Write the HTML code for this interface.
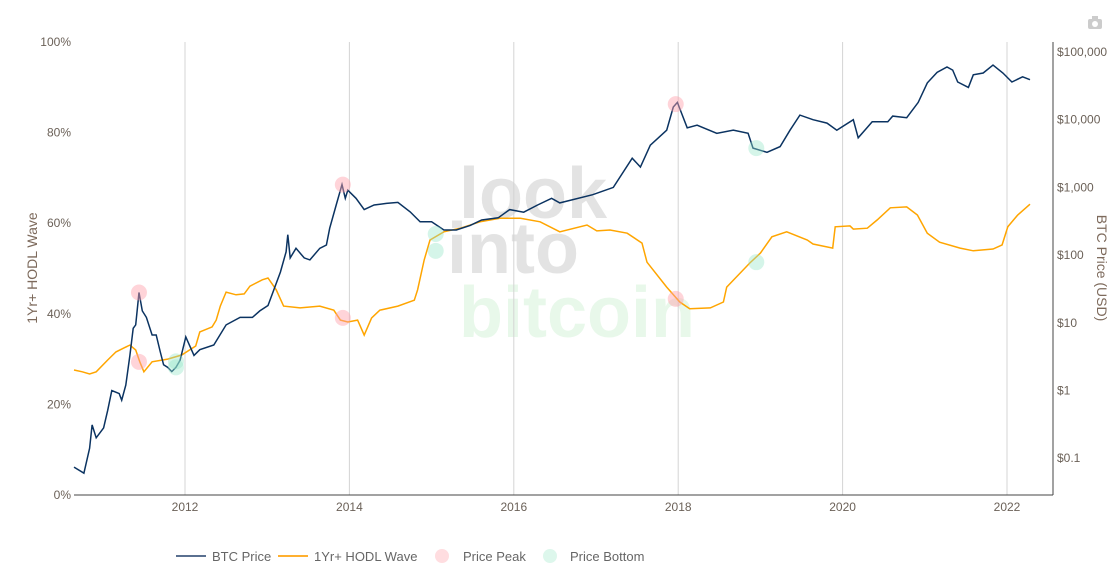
<!DOCTYPE html>
<html><head><meta charset="utf-8"><style>
body{margin:0;background:#fff;font-family:"Liberation Sans",sans-serif;}
svg text{font-family:"Liberation Sans",sans-serif;}
</style></head><body>
<svg id="chart" width="1118" height="573" xmlns="http://www.w3.org/2000/svg">
<g id="wm">
<text x="533" y="218" font-size="72" font-weight="bold" fill="#e3e3e3" text-anchor="middle">look</text>
<text x="513" y="273" font-size="72" font-weight="bold" fill="#e3e3e3" text-anchor="middle">into</text>
<text x="577" y="337" font-size="72" font-weight="bold" fill="#e8f8ea" text-anchor="middle">bitcoin</text>
</g>
<g id="grid"></g><g id="axes"></g><g id="series"></g><g id="marks"></g><g id="legend"></g>
<g><rect x="1088" y="19" width="14" height="10" rx="2" fill="#ccc"/><rect x="1092" y="16" width="6" height="4" fill="#ccc"/><circle cx="1095" cy="24" r="3" fill="#fff"/></g>
</svg>
<script>
const priceYears=[2010.65,2010.77,2010.84,2010.87,2010.92,2011.01,2011.06,2011.11,2011.20,2011.23,2011.28,2011.33,2011.37,2011.40,2011.44,2011.48,2011.53,2011.60,2011.65,2011.70,2011.74,2011.79,2011.84,2011.89,2011.94,2012.01,2012.11,2012.18,2012.35,2012.50,2012.67,2012.82,2012.91,2013.01,2013.16,2013.23,2013.25,2013.28,2013.35,2013.45,2013.52,2013.64,2013.72,2013.76,2013.84,2013.89,2013.91,2013.95,2013.98,2014.08,2014.18,2014.30,2014.45,2014.59,2014.74,2014.86,2015.00,2015.15,2015.30,2015.47,2015.61,2015.81,2015.95,2016.12,2016.29,2016.46,2016.56,2016.96,2017.21,2017.44,2017.54,2017.66,2017.86,2017.94,2017.99,2018.05,2018.11,2018.23,2018.47,2018.67,2018.85,2018.91,2019.08,2019.24,2019.36,2019.48,2019.64,2019.81,2019.93,2020.13,2020.19,2020.36,2020.55,2020.61,2020.78,2020.92,2021.03,2021.15,2021.27,2021.34,2021.40,2021.53,2021.59,2021.71,2021.83,2021.95,2022.06,2022.19,2022.28];
const priceValues=[0.074,0.06,0.14,0.31,0.2,0.28,0.51,1.0,0.9,0.72,1.2,3.3,8.3,9.3,28,15,12,6.6,6.6,3.7,2.4,2.2,1.9,2.2,2.8,6.2,3.3,4.0,4.7,9.3,12,12,15,18,56,112,200,91,126,91,85,126,141,250,550,910,1100,690,910,690,470,550,580,600,435,310,310,235,235,275,330,355,470,430,550,690,590,780,1000,2700,2000,4200,7000,15400,18000,11700,7600,8300,6300,7000,6300,3800,3300,4000,7000,11700,10000,8900,7000,10000,5400,9300,9300,11300,10700,18000,35000,50000,60000,54000,36000,30000,46000,49000,64000,49000,36000,43000,39000];
const hodlYears=[2010.65,2010.75,2010.84,2010.92,2011.06,2011.16,2011.26,2011.33,2011.40,2011.45,2011.50,2011.60,2011.79,2011.96,2012.13,2012.18,2012.33,2012.38,2012.43,2012.50,2012.62,2012.72,2012.79,2012.94,2013.01,2013.11,2013.20,2013.40,2013.64,2013.81,2013.89,2013.98,2014.10,2014.18,2014.27,2014.37,2014.59,2014.79,2014.83,2014.91,2014.98,2015.15,2015.35,2015.59,2015.83,2016.08,2016.32,2016.56,2016.89,2017.01,2017.17,2017.38,2017.56,2017.62,2017.86,2018.02,2018.14,2018.39,2018.55,2018.59,2018.87,2019.00,2019.14,2019.32,2019.57,2019.64,2019.88,2019.91,2020.09,2020.13,2020.30,2020.42,2020.58,2020.78,2020.91,2021.03,2021.18,2021.43,2021.59,2021.83,2021.94,2022.01,2022.13,2022.28];
const hodlValues=[27.6,27.2,26.7,27.2,29.8,31.6,32.5,33.1,32.0,29.4,27.2,29.4,30.0,30.9,32.9,36.0,37.1,38.6,41.7,44.8,44.2,44.4,46.1,47.5,47.9,45.3,41.7,41.3,41.7,40.8,38.6,38.2,38.6,35.3,39.1,40.8,41.7,43.0,45.3,51.9,56.3,58.1,58.9,60.3,61.1,61.1,60.3,58.1,59.6,58.3,58.5,57.8,55.6,51.4,45.9,42.6,41.1,41.3,42.6,45.9,51.2,53.4,57.0,58.1,56.3,55.4,54.5,59.2,59.4,58.7,58.9,60.7,63.4,63.6,61.8,57.8,55.8,54.5,53.9,54.3,55.2,59.2,61.8,64.2];
const peakYears=[2011.44,2013.92,2017.97];
const peakPrices=[28,1100,17000];
const peakHodl=[29.4,39.1,43.3];
const bottomYears=[2011.89,2015.05,2018.95];
const bottomPrices=[2.2,205,3800];
const bottomHodl=[29.5,53.9,51.4];
const xTicks=[2012,2014,2016,2018,2020,2022];
const leftTicks=[0,20,40,60,80,100];
const rightTicks=[0.1,1,10,100,1000,10000,100000];
const rightLabels=["$0.1","$1","$10","$100","$1,000","$10,000","$100,000"];

const NS="http://www.w3.org/2000/svg";
const L=74,R=1053,T=42,B=495;
const xs=y=>185+(y-2012)*82.2;
const yl=p=>B-p*(B-T)/100;
const yr=v=>52+(5-Math.log10(v))*67.7;
function mk(parent,tag,attrs,text){const e=document.createElementNS(NS,tag);for(const k in attrs)e.setAttribute(k,attrs[k]);if(text!==undefined)e.textContent=text;document.getElementById(parent).appendChild(e);return e;}
const tc="#6b6158";
xTicks.forEach(t=>{
 const g=mk('grid','line',{x1:xs(t),x2:xs(t),y1:T,y2:B,stroke:"#d4d4d4","stroke-width":1});
 
 
 const l=mk('axes','text',{x:xs(t),y:511,"font-size":12,fill:tc,"text-anchor":"middle"},String(t));
 
 
});
leftTicks.forEach(t=>{
 const l=mk('axes','text',{x:71,y:yl(t)+4,"font-size":12,fill:tc,"text-anchor":"end"},t+"%");
 
 
});
rightTicks.forEach((t,i)=>{
 const l=mk('axes','text',{x:1057,y:yr(t)+4,"font-size":12,fill:tc},rightLabels[i]);
 
 
});
let a=mk('axes','line',{x1:L,x2:R,y1:B,y2:B,stroke:"#444","stroke-width":1});


a=mk('axes','line',{x1:R,x2:R,y1:T,y2:B,stroke:"#444","stroke-width":1});


a=mk('axes','text',{x:0,y:0,"font-size":14,fill:"#7d6a5c","text-anchor":"middle",transform:"translate(37,268) rotate(-90)"},"1Yr+ HODL Wave");


a=mk('axes','text',{x:0,y:0,"font-size":14,fill:"#7d6a5c","text-anchor":"middle",transform:"translate(1097,268) rotate(90)"},"BTC Price (USD)");



const hp=hodlYears.map((y,i)=>xs(y).toFixed(1)+","+yl(hodlValues[i]).toFixed(1)).join(" ");
a=mk('series','polyline',{points:hp,fill:"none",stroke:"#ffa500","stroke-width":1.5});


const pp=priceYears.map((y,i)=>xs(y).toFixed(1)+","+yr(priceValues[i]).toFixed(1)).join(" ");
a=mk('series','polyline',{points:pp,fill:"none",stroke:"#0b3361","stroke-width":1.5});



peakYears.forEach((y,i)=>{
 let c=mk('marks','circle',{cx:xs(y),cy:yr(peakPrices[i]),r:8,fill:"rgba(255,160,170,0.45)"});
 
 
 c=mk('marks','circle',{cx:xs(y),cy:yl(peakHodl[i]),r:8,fill:"rgba(255,160,170,0.45)"});
 
 
});
bottomYears.forEach((y,i)=>{
 let c=mk('marks','circle',{cx:xs(y),cy:yr(bottomPrices[i]),r:8,fill:"rgba(150,230,200,0.4)"});
 
 
 c=mk('marks','circle',{cx:xs(y),cy:yl(bottomHodl[i]),r:8,fill:"rgba(150,230,200,0.4)"});
 
 
});

let e;
e=mk('legend','line',{x1:176,x2:206,y1:556,y2:556,stroke:"#5a7090","stroke-width":2});


e=mk('legend','text',{x:212,y:561,"font-size":13,fill:"#666"},"BTC Price");


e=mk('legend','line',{x1:278,x2:308,y1:556,y2:556,stroke:"#ffb030","stroke-width":2});


e=mk('legend','text',{x:314,y:561,"font-size":13,fill:"#666"},"1Yr+ HODL Wave");


e=mk('legend','circle',{cx:442,cy:556,r:7,fill:"#ffdde0"});


e=mk('legend','text',{x:463,y:561,"font-size":13,fill:"#666"},"Price Peak");


e=mk('legend','circle',{cx:550,cy:556,r:7,fill:"#ddf7ec"});


e=mk('legend','text',{x:570,y:561,"font-size":13,fill:"#666"},"Price Bottom");


</script>
</body></html>
